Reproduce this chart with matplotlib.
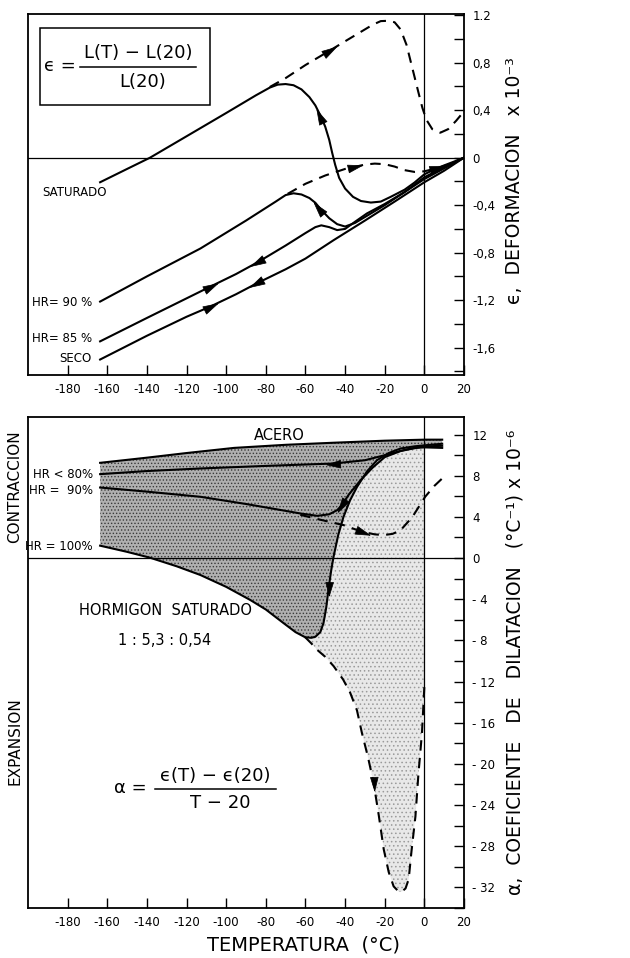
import numpy as np
import matplotlib
matplotlib.use("Agg")
import matplotlib.pyplot as plt
from matplotlib.patches import Rectangle

plt.rcParams['font.family'] = ['DejaVu Sans']
plt.rcParams['hatch.linewidth'] = 0.6

# ---------------- top panel: deformation (x 1e-3) ----------------
sat_T = [-163.6, -150, -138.4, -120, -100, -85, -78, -74, -70, -66, -62, -58, -55, -52, -50,
         -48, -46.5, -45, -43, -40, -36, -32, -27, -22, -17, -10, -5, 0, 5, 10, 15, 20]
sat_E = [-0.207, -0.095, 0.0, 0.18, 0.376, 0.525, 0.59, 0.615, 0.62, 0.61, 0.575, 0.51, 0.44,
         0.34, 0.26, 0.15, 0.04, -0.06, -0.17, -0.26, -0.33, -0.365, -0.378, -0.37, -0.33,
         -0.27, -0.21, -0.14, -0.10, -0.065, -0.033, 0.0]
sat_dash_T = [-78, -70, -60, -48.3, -40, -32, -26, -22, -18, -15, -12, -9, -6, -3, -1, 1, 4, 8,
              12, 16, 20]
sat_dash_E = [0.595, 0.67, 0.78, 0.896, 0.98, 1.06, 1.12, 1.15, 1.153, 1.14, 1.08, 0.95, 0.75,
              0.55, 0.42, 0.32, 0.24, 0.21, 0.24, 0.31, 0.39]
hr90_dash_T = [-69, -60, -50, -40, -35.7, -30, -25, -20, -15, -10, -5, 0, 6, 12, 20]
hr90_dash_E = [-0.305, -0.22, -0.15, -0.095, -0.08, -0.058, -0.05, -0.055, -0.075, -0.105,
               -0.12, -0.115, -0.09, -0.06, 0.0]
hr90_T = [-163.6, -140, -113, -90, -75, -70, -66, -62, -58, -55, -52, -48, -44, -40, -35, -30,
          -20, -10, 0, 10, 20]
hr90_E = [-1.212, -1.0, -0.765, -0.53, -0.37, -0.315, -0.30, -0.31, -0.34, -0.38, -0.44, -0.51,
          -0.56, -0.58, -0.55, -0.50, -0.40, -0.29, -0.165, -0.08, 0.0]
hr85_T = [-163.6, -140, -120, -108, -95, -83.7, -70, -60, -55, -52, -48, -44, -40, -35, -29,
          -20, -10, 0, 10, 20]
hr85_E = [-1.547, -1.35, -1.185, -1.086, -0.98, -0.877, -0.74, -0.635, -0.585, -0.57, -0.585,
          -0.61, -0.60, -0.54, -0.47, -0.39, -0.29, -0.18, -0.09, 0.0]
seco_T = [-163.6, -140, -120, -108, -95, -84.5, -70, -60, -45.8, -30, -15, 0, 10, 20]
seco_E = [-1.70, -1.50, -1.34, -1.254, -1.15, -1.058, -0.94, -0.85, -0.695, -0.53, -0.37, -0.207,
          -0.11, 0.0]
# arrowheads: (T, E, dT, dE) direction along curve
top_arrows = [(-48.3, 0.896, 1, 0.0102), (-52.5, 0.34, -1, 0.035), (-35.7, -0.08, 1, 0.004),
              (6, -0.09, 1, 0.005), (-53.4, -0.43, -1, 0.02), (-108, -1.086, 1, 0.0085),
              (-83.7, -0.877, -1, -0.009), (-108, -1.254, 1, 0.0085), (-84.5, -1.058, -1, -0.009)]

# ---------------- bottom panel: dilatation coefficient (x 1e-6) ----------------
acero_T = [-163.6, -140, -120, -96, -70, -46, -20, 0, 9]
acero_A = [9.25, 9.75, 10.2, 10.7, 11.0, 11.2, 11.4, 11.5, 11.5]
hr80_T = [-163.6, -140, -113, -80, -46, -30, -20, -12, -7, 0, 9]
hr80_A = [8.15, 8.45, 8.7, 8.95, 9.18, 9.5, 9.99, 10.4, 10.64, 10.85, 10.9]
a90_T = [-163.6, -140, -113, -90, -75, -62.6, -54, -48, -44, -41.6, -38, -32, -26, -20, -12, -4,
         0, 9]
a90_A = [6.85, 6.45, 5.95, 5.25, 4.75, 4.33, 4.1, 4.25, 4.65, 5.14, 6.2, 7.6, 8.8, 9.8, 10.4,
         10.7, 10.75, 10.7]
a90_dash_T = [-62.6, -52, -40.8, -31.5, -25, -20.5, -16, -12, -6, 0.4, 5, 9]
a90_dash_A = [4.2, 3.7, 3.2, 2.55, 2.3, 2.23, 2.35, 2.7, 4.0, 5.95, 7.0, 7.73]
a100_T = [-163.6, -150, -138.4, -125, -113, -100, -87.9, -80, -71, -65, -60.1, -57, -55, -52.5,
          -50.9, -49.5, -48.3, -47, -45.8, -43.5, -40.8, -37.5, -34, -29, -23.9, -18, -12, -5,
          0, 9]
a100_A = [1.2, 0.6, 0.03, -0.8, -1.65, -2.8, -4.07, -5.0, -6.33, -7.2, -7.7, -7.75, -7.65, -7.2,
          -6.33, -4.8, -2.94, -1.2, 0.13, 2.2, 4.0, 5.6, 6.9, 8.4, 9.5, 10.2, 10.64, 10.85,
          10.95, 11.1]
sat_dash2_T = [-60.1, -57, -54.2, -50, -45.8, -41, -37.4, -34, -31.5, -28.5, -25.6, -23, -20.5,
               -18, -15.5, -13, -11.3, -9.5, -7.9, -6.5, -4.5, -3, -1.2, 0]
sat_dash2_A = [-7.7, -8.3, -8.9, -9.6, -10.5, -11.8, -13.1, -14.8, -17.0, -19.3, -21.85, -25.0,
               -28.3, -30.5, -31.9, -32.4, -32.4, -32.1, -31.2, -28.5, -25.1, -21.0, -17.0, -12.5]
bot_arrows = [(-45.8, 9.18, -1, -0.01), (-41.6, 5.14, -1, -0.3), (-31.5, 2.55, 1, -0.07),
              (-48.3, -2.94, -0.2, -1.5), (-25.6, -21.85, 0.2, -1.2)]

top_ticks = [1.2, 0.8, 0.4, 0, -0.4, -0.8, -1.2, -1.6]
top_ticklabels = ['1.2', '0,8', '0,4', '0', '-0,4', '-0,8', '-1,2', '-1,6']
bot_ticks = [12, 8, 4, 0, -4, -8, -12, -16, -20, -24, -28, -32]
bot_ticklabels = ['12', '8', '4', '0', '- 4', '- 8', '- 12', '- 16', '- 20', '- 24', '- 28', '- 32']
x_ticks = [-180, -160, -140, -120, -100, -80, -60, -40, -20, 0, 20]


def head(ax, x, y, dx, dy, size=11):
    p0 = ax.transData.transform((x, y))
    p1 = ax.transData.transform((x + dx, y + dy))
    ang = np.arctan2(p1[1] - p0[1], p1[0] - p0[0])
    base = np.array([[1.0, 0.0], [-0.8, 0.5], [-0.8, -0.5], [1.0, 0.0]])
    c, s = np.cos(ang), np.sin(ang)
    rot = base @ np.array([[c, s], [-s, c]])
    ax.plot([x], [y], marker=rot, ms=size, color='k', mec='k', mew=0.5, zorder=5)


def style(ax, yticks, ylabels, minor):
    ax.set_xlim(-200, 20)
    ax.set_xticks(x_ticks)
    ax.set_xticklabels([str(t) for t in x_ticks], fontsize=8.5)
    ax.yaxis.tick_right()
    ax.set_yticks(yticks)
    ax.set_yticklabels(ylabels, fontsize=8.5)
    ax.set_yticks(minor, minor=True)
    ax.tick_params(axis='both', direction='in', length=7, width=1, pad=6)
    ax.tick_params(axis='y', which='minor', direction='in', length=7, width=1)
    ax.tick_params(axis='x', top=False)
    for sp in ax.spines.values():
        sp.set_linewidth(1.3)
    ax.axhline(0, color='k', lw=0.9)
    ax.axvline(0, color='k', lw=0.9)


fig = plt.figure(figsize=(6.3, 9.58), dpi=100)
ax1 = fig.add_axes([0.0444, 0.6086, 0.6921, 0.3768])
ax2 = fig.add_axes([0.0444, 0.0522, 0.6921, 0.5125])

# ---- top ----
ax1.set_ylim(-1.83, 1.21)
style(ax1, top_ticks, top_ticklabels, np.arange(-1.8, 1.21, 0.2))
lw = 1.5
dash = (5, 3.5)
for T, E in [(sat_T, sat_E), (hr90_T, hr90_E), (hr85_T, hr85_E), (seco_T, seco_E)]:
    ax1.plot(T, E, color='k', lw=lw)
for T, E in [(sat_dash_T, sat_dash_E), (hr90_dash_T, hr90_dash_E)]:
    ax1.plot(T, E, color='k', lw=lw, dashes=dash)
for a in top_arrows:
    head(ax1, *a)

ax1.add_patch(Rectangle((-193.9, 0.444), 85.8, 0.645, fill=False, lw=1.1, zorder=4))
ax1.text(-183.8, 0.77, 'ϵ =', fontsize=13, ha='center', va='center')
ax1.text(-144.4, 0.885, 'L(T) − L(20)', fontsize=13, ha='center', va='center')
ax1.plot([-173.7, -115.2], [0.762, 0.762], color='k', lw=1.1)
ax1.text(-141.9, 0.635, 'L(20)', fontsize=13, ha='center', va='center')

ax1.text(-160.1, -0.293, 'SATURADO', fontsize=8.5, ha='right', va='center')
ax1.text(-167.7, -1.223, 'HR= 90 %', fontsize=8.5, ha='right', va='center')
ax1.text(-167.7, -1.524, 'HR= 85 %', fontsize=8.5, ha='right', va='center')
ax1.text(-167.7, -1.692, 'SECO', fontsize=8.5, ha='right', va='center')

# ---- bottom ----
ax2.set_ylim(-34, 13.7)
style(ax2, bot_ticks, bot_ticklabels, np.arange(-34, 13.7, 2))

dense_x = np.concatenate([acero_T, a100_T[::-1]])
dense_y = np.concatenate([acero_A, a100_A[::-1]])
ax2.fill(dense_x, dense_y, facecolor='#b0b0b0', edgecolor='#3a3a3a', hatch='.....', lw=0,
         zorder=1)
i0 = a100_T.index(-60.1)
light_x = np.concatenate([a100_T[i0:-1], sat_dash2_T[::-1]])
light_y = np.concatenate([a100_A[i0:-1], sat_dash2_A[::-1]])
ax2.fill(light_x, light_y, facecolor='#e8e8e8', edgecolor='#9a9a9a', hatch='....', lw=0,
         zorder=1)

for T, A in [(acero_T, acero_A), (hr80_T, hr80_A), (a90_T, a90_A), (a100_T, a100_A)]:
    ax2.plot(T, A, color='k', lw=lw, zorder=3)
for T, A in [(a90_dash_T, a90_dash_A), (sat_dash2_T, sat_dash2_A)]:
    ax2.plot(T, A, color='k', lw=lw, dashes=dash, zorder=3)
for a in bot_arrows:
    head(ax2, *a)

ax2.text(-73.2, 11.93, 'ACERO', fontsize=10.5, ha='center', va='center')
ax2.text(-167.2, 8.1, 'HR < 80%', fontsize=8.5, ha='right', va='center')
ax2.text(-167.2, 6.6, 'HR =  90%', fontsize=8.5, ha='right', va='center')
ax2.text(-167.2, 1.16, 'HR = 100%', fontsize=8.5, ha='right', va='center')
ax2.text(-130.8, -5.1, 'HORMIGON  SATURADO', fontsize=10.5, ha='center', va='center')
ax2.text(-131.3, -8.0, '1 : 5,3 : 0,54', fontsize=10.5, ha='center', va='center')

ax2.add_patch(Rectangle((-159.6, -25.8), 89.9, 7.47, facecolor='white', lw=1.1, zorder=4))
ax2.text(-148.5, -22.3, 'α =', fontsize=13, ha='center', va='center', zorder=5)
ax2.text(-105.6, -21.15, 'ϵ(T) − ϵ(20)', fontsize=13, ha='center', va='center', zorder=5)
ax2.plot([-135.9, -74.7], [-22.4, -22.4], color='k', lw=1.1, zorder=5)
ax2.text(-103, -23.8, 'T − 20', fontsize=13, ha='center', va='center', zorder=5)

# ---- figure-level labels ----
fig.text(0.817, 0.812, 'ϵ,  DEFORMACION   x 10⁻³', rotation=90, fontsize=13.5,
         ha='center', va='center')
fig.text(0.817, 0.309, 'α,  COEFICIENTE   DE   DILATACION   (°C⁻¹) x 10⁻⁶', rotation=90,
         fontsize=13.5, ha='center', va='center')
fig.text(0.0238, 0.4916, 'CONTRACCION', rotation=90, fontsize=11, ha='center', va='center')
fig.text(0.0238, 0.2265, 'EXPANSION', rotation=90, fontsize=11, ha='center', va='center')
fig.text(0.4825, 0.0136, 'TEMPERATURA  (°C)', fontsize=14, ha='center', va='center')

fig.savefig('out.png', dpi=100)
